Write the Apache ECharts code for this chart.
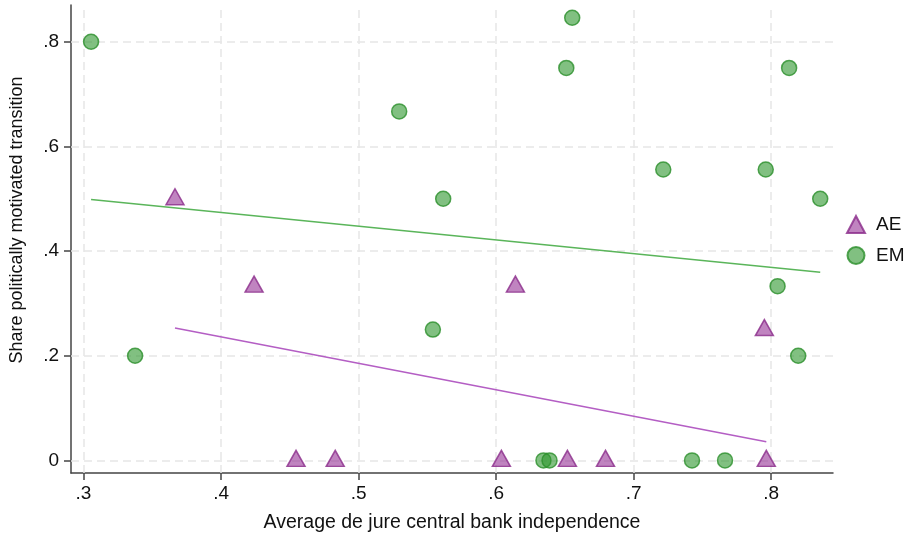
<!DOCTYPE html>
<html>
<head>
<meta charset="utf-8">
<script src="https://cdn.jsdelivr.net/npm/echarts@6/dist/echarts.min.js"></script>
<style>
  html, body { margin: 0; padding: 0; background: #fff; }
  #chart { width: 905px; height: 538px; }
</style>
</head>
<body>
<div id="chart"></div>
<script>
// Advanced economies: [CBI index, share of politically motivated transitions]
const aeX = [0.3665, 0.424, 0.614, 0.795, 0.4545, 0.483, 0.6038, 0.6518, 0.6795, 0.7964];
const aeY = [0.5, 0.333, 0.333, 0.25, 0, 0, 0, 0, 0, 0];

// Emerging markets
const emX = [0.3055, 0.3375, 0.5295, 0.5615, 0.554, 0.6553, 0.651, 0.7215, 0.796, 0.813,
             0.8356, 0.8046, 0.8196, 0.6344, 0.6388, 0.7424, 0.7664];
const emY = [0.8, 0.2, 0.667, 0.5, 0.25, 0.846, 0.75, 0.556, 0.556, 0.75,
             0.5, 0.333, 0.2, 0, 0, 0, 0];

const groupNames = ['AE', 'EM'];
const xTicks = [0.3, 0.4, 0.5, 0.6, 0.7, 0.8];
const yTicks = [0, 0.2, 0.4, 0.6, 0.8];
const xTitle = 'Average de jure central bank independence';
const yTitle = 'Share politically motivated transition';

const FONT = "'Liberation Sans', Arial, Helvetica, sans-serif";
const PURPLE_EDGE = '#8a2a8a';
const GREEN_EDGE = '#2a8f2a';

function pairs(xs, ys) { return xs.map((x, i) => [x, ys[i]]); }

// Ordinary least squares fit over the observed x range
function linearFit(xs, ys) {
  const n = xs.length;
  const mx = xs.reduce((a, b) => a + b, 0) / n;
  const my = ys.reduce((a, b) => a + b, 0) / n;
  let sxy = 0, sxx = 0;
  for (let i = 0; i < n; i++) {
    sxy += (xs[i] - mx) * (ys[i] - my);
    sxx += (xs[i] - mx) * (xs[i] - mx);
  }
  const b = sxy / sxx, a = my - b * mx;
  const lo = Math.min(...xs), hi = Math.max(...xs);
  return [[lo, a + b * lo], [hi, a + b * hi]];
}

function fmt(v) {
  if (v === 0) return '0';
  return String(+v.toFixed(1)).replace(/^0/, '');
}

const gridLineStyle = { color: '#e6e6e6', width: 1.5, type: [8, 5] };
const axisColor = '#444';

const chart = echarts.init(document.getElementById('chart'), null, { renderer: 'canvas' });

chart.setOption({
  animation: false,
  backgroundColor: '#fff',
  textStyle: { fontFamily: FONT },
  grid: { left: 71, right: 72, top: 5, bottom: 62, containLabel: false },
  graphic: [
    {
      // y-axis title, set slightly above the axis midpoint
      type: 'text',
      x: 17,
      y: 220,
      rotation: Math.PI / 2,
      style: {
        text: yTitle,
        fontFamily: FONT,
        fontSize: 18,
        fill: '#111',
        align: 'center',
        verticalAlign: 'middle'
      }
    }
  ],
  legend: {
    orient: 'vertical',
    left: 841,
    top: 210,
    itemWidth: 18,
    itemHeight: 17,
    itemGap: 12,
    data: [
      { name: groupNames[0], icon: 'triangle' },
      { name: groupNames[1], icon: 'circle' }
    ],
    textStyle: { fontFamily: FONT, fontSize: 19, lineHeight: 17, color: '#111', padding: [0, 0, 0, 6] }
  },
  xAxis: {
    type: 'value',
    min: 0.2909,
    max: 0.8449,
    name: xTitle,
    nameLocation: 'middle',
    nameGap: 40,
    nameTextStyle: { fontFamily: FONT, fontSize: 19.5, color: '#111' },
    axisLine: { show: true, onZero: false, lineStyle: { color: axisColor, width: 1.5 } },
    axisTick: { show: true, length: 7, lineStyle: { color: axisColor, width: 1.5 }, customValues: xTicks },
    axisLabel: { fontFamily: FONT, fontSize: 19, color: '#111', margin: 11, customValues: xTicks, formatter: fmt },
    splitLine: { show: false }
  },
  yAxis: {
    type: 'value',
    min: -0.0241,
    max: 0.8703,
    axisLine: { show: true, onZero: false, lineStyle: { color: axisColor, width: 1.5 } },
    axisTick: { show: true, length: 7, lineStyle: { color: axisColor, width: 1.5 }, customValues: yTicks },
    axisLabel: { fontFamily: FONT, fontSize: 19, color: '#111', margin: 12, customValues: yTicks, formatter: fmt },
    splitLine: { show: false }
  },
  series: [
    {
      // dashed reference grid at the tick positions
      type: 'line',
      data: [],
      silent: true,
      z: 1,
      markLine: {
        silent: true,
        z: 1,
        symbol: 'none',
        label: { show: false },
        lineStyle: gridLineStyle,
        data: xTicks.map(v => ({ xAxis: v })).concat(yTicks.map(v => ({ yAxis: v })))
      }
    },
    {
      name: groupNames[0],
      type: 'scatter',
      symbol: 'triangle',
      symbolSize: [18, 16],
      symbolOffset: [0, -2],
      data: pairs(aeX, aeY),
      z: 3,
      itemStyle: { color: 'rgba(150, 50, 150, 0.75)', borderColor: PURPLE_EDGE, borderWidth: 1.5 }
    },
    {
      name: groupNames[1],
      type: 'scatter',
      symbol: 'circle',
      symbolSize: 15,
      data: pairs(emX, emY),
      z: 3,
      itemStyle: { color: 'rgba(45, 150, 45, 0.75)', borderColor: GREEN_EDGE, borderWidth: 1.5 }
    },
    {
      name: 'AE fit',
      type: 'line',
      data: linearFit(aeX, aeY),
      symbol: 'none',
      z: 4,
      lineStyle: { color: '#b45ec4', width: 1.5 }
    },
    {
      name: 'EM fit',
      type: 'line',
      data: linearFit(emX, emY),
      symbol: 'none',
      z: 4,
      lineStyle: { color: '#5ab55a', width: 1.5 }
    }
  ]
});
</script>
</body>
</html>
